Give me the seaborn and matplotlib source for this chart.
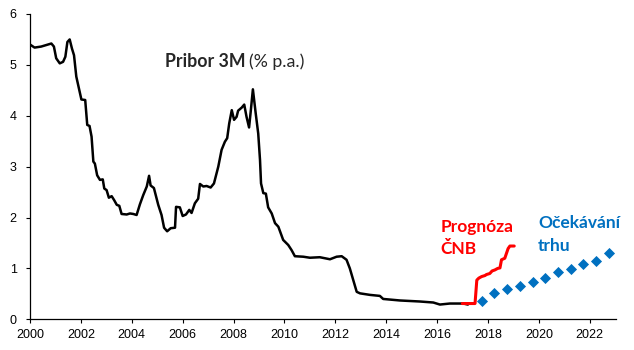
import pandas as pd
import seaborn as sns
import matplotlib.pyplot as plt

sns.set_style("ticks")
plt.rcParams['font.family'] = ['Liberation Sans', 'DejaVu Sans']

# Pribor 3M history (year, % p.a.)
hist_year = [2000.00, 2000.18, 2000.44, 2000.64, 2000.84, 2000.94, 2001.03, 2001.17,
             2001.30, 2001.39, 2001.47, 2001.56, 2001.65, 2001.73, 2001.82, 2002.02,
             2002.17, 2002.25, 2002.34, 2002.42, 2002.49, 2002.55, 2002.64, 2002.75,
             2002.86, 2002.92, 2003.01, 2003.10, 2003.21, 2003.31, 2003.41, 2003.51,
             2003.60, 2003.80, 2003.93, 2004.06, 2004.19, 2004.32, 2004.45, 2004.59,
             2004.68, 2004.74, 2004.87, 2005.04, 2005.17, 2005.27, 2005.39, 2005.53,
             2005.70, 2005.74, 2005.89, 2006.00, 2006.13, 2006.26, 2006.35, 2006.48,
             2006.61, 2006.68, 2006.81, 2006.94, 2007.10, 2007.23, 2007.40, 2007.53,
             2007.66, 2007.75, 2007.83, 2007.93, 2008.02, 2008.12, 2008.18, 2008.32,
             2008.42, 2008.51, 2008.61, 2008.68, 2008.76, 2008.87, 2008.97, 2009.04,
             2009.08, 2009.17, 2009.27, 2009.36, 2009.50, 2009.63, 2009.76, 2009.95,
             2010.15, 2010.28, 2010.41, 2010.74, 2011.00, 2011.39, 2011.79, 2012.05,
             2012.25, 2012.44, 2012.57, 2012.84, 2012.97, 2013.36, 2013.75, 2013.88,
             2014.54, 2015.32, 2015.85, 2016.11, 2016.50, 2017.03, 2017.21]
hist_rate = [5.40, 5.34, 5.36, 5.39, 5.42, 5.36, 5.13, 5.03,
             5.06, 5.16, 5.45, 5.50, 5.32, 5.19, 4.77, 4.32,
             4.31, 3.82, 3.80, 3.59, 3.10, 3.06, 2.83, 2.74,
             2.75, 2.57, 2.54, 2.39, 2.42, 2.34, 2.25, 2.23,
             2.07, 2.06, 2.08, 2.07, 2.05, 2.26, 2.44, 2.61,
             2.82, 2.63, 2.58, 2.25, 2.05, 1.80, 1.73, 1.79,
             1.80, 2.21, 2.20, 2.03, 2.06, 2.15, 2.09, 2.28,
             2.37, 2.66, 2.61, 2.62, 2.59, 2.67, 3.00, 3.33,
             3.49, 3.56, 3.85, 4.11, 3.92, 3.98, 4.10, 4.16,
             4.22, 3.98, 3.77, 4.11, 4.52, 4.05, 3.65, 3.13,
             2.67, 2.48, 2.47, 2.20, 2.08, 1.89, 1.82, 1.56,
             1.46, 1.36, 1.24, 1.23, 1.21, 1.22, 1.18, 1.23,
             1.24, 1.17, 1.00, 0.54, 0.51, 0.48, 0.46, 0.40,
             0.37, 0.35, 0.33, 0.29, 0.31, 0.31, 0.29]

# CNB forecast
cnb_year = [2016.99, 2017.49, 2017.56, 2017.64, 2017.75, 2017.88, 2017.94, 2018.07,
            2018.16, 2018.27, 2018.38, 2018.47, 2018.53, 2018.66, 2018.79, 2018.86, 2019.03]
cnb_rate = [0.31, 0.31, 0.77, 0.81, 0.84, 0.86, 0.88, 0.90,
            0.95, 0.97, 1.00, 1.01, 1.17, 1.20, 1.39, 1.44, 1.44]

# market expectations
mkt_year = [2017.75, 2018.25, 2018.75, 2019.25, 2019.75, 2020.25,
            2020.75, 2021.25, 2021.75, 2022.25, 2022.75]
mkt_rate = [0.35, 0.51, 0.59, 0.66, 0.74, 0.82, 0.92, 0.99, 1.08, 1.14, 1.31]

hist = pd.DataFrame({'year': hist_year, 'rate': hist_rate})
cnb = pd.DataFrame({'year': cnb_year, 'rate': cnb_rate})
mkt = pd.DataFrame({'year': mkt_year, 'rate': mkt_rate})

RED = '#FF0000'
BLUE = '#0070C0'

fig = plt.figure(figsize=(6.34, 3.5), dpi=100)
ax = fig.add_axes([0.0473, 0.0877, 0.9243, 0.8723])

sns.lineplot(data=hist, x='year', y='rate', color='black', lw=1.8, ax=ax, sort=False)
sns.lineplot(data=cnb, x='year', y='rate', color=RED, lw=2.2, ax=ax, sort=False)
sns.scatterplot(data=mkt, x='year', y='rate', color=BLUE, marker='D', s=32,
                edgecolor=BLUE, linewidth=0, ax=ax, zorder=3)

ax.set_xlim(2000, 2023.03)
ax.set_ylim(0, 6)
ax.set_xticks(range(2000, 2023, 2))
ax.set_yticks(range(0, 7))
ax.set_xlabel('')
ax.set_ylabel('')
sns.despine(ax=ax)
for s in ['left', 'bottom']:
    ax.spines[s].set_color('black')
    ax.spines[s].set_linewidth(0.9)
ax.tick_params(axis='both', direction='out', length=3, width=0.8,
               color='black', labelsize=9, labelcolor='black')
ax.tick_params(axis='y', pad=6.5)
ax.tick_params(axis='x', pad=4)

txt = ['Lato', 'DejaVu Sans']
ax.text(2005.30, 5.06, 'Pribor 3M', family=txt, fontsize=12.8, fontweight='bold',
        va='center', ha='left')
ax.text(2008.62, 5.06, '(% p.a.)', family=txt, fontsize=12.8, va='center', ha='left')
ax.text(2016.14, 1.82, 'Prognóza', family=txt, fontsize=12.5, fontweight='bold',
        color=RED, va='center', ha='left')
ax.text(2016.14, 1.39, 'ČNB', family=txt, fontsize=12.5, fontweight='bold',
        color=RED, va='center', ha='left')
ax.text(2019.97, 1.89, 'Očekávání', family=txt, fontsize=12.5, fontweight='bold',
        color=BLUE, va='center', ha='left')
ax.text(2019.97, 1.44, 'trhu', family=txt, fontsize=12.5, fontweight='bold',
        color=BLUE, va='center', ha='left')

fig.savefig('out.png', dpi=100)
